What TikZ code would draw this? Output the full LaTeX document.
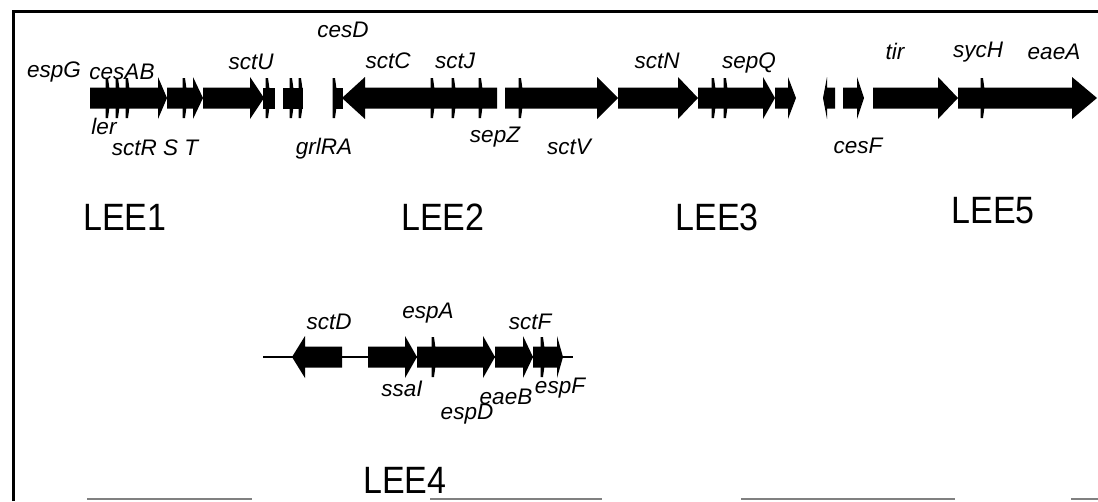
\documentclass[tikz,border=0pt]{standalone}
\usepackage{fontspec}
\setmainfont{Liberation Sans}
\newcommand{\garr}[4]{\fill (#1,{#4-10.5}) -- (#2,{#4-10.5}) -- (#2,{#4-21}) -- (#3,#4) -- (#2,{#4+21}) -- (#2,{#4+10.5}) -- (#1,{#4+10.5}) -- cycle;}
\newcommand{\gbox}[3]{\fill (#1,{#3-10.5}) rectangle (#2,{#3+10.5});}
\newcommand{\gtick}[2]{\fill ({#1-1.5},{#2-20}) -- ({#1+1},{#2-20}) -- ({#1+2.5},{#2-9}) -- ({#1+2.5},{#2+9}) -- ({#1+1},{#2+20}) -- ({#1-1.5},{#2+20}) -- cycle;}
\begin{document}
\begin{tikzpicture}[x=1pt,y=-1pt,
  gene/.style={font=\fontsize{22.5}{24}\selectfont\itshape, inner sep=0pt},
  lee/.style={font=\fontsize{34}{36}\selectfont, inner sep=0pt}]
\useasboundingbox (0,0) rectangle (1098,501);
% frame
\draw[line width=3pt] (13.5,501) -- (13.5,11) -- (1098,11);
\draw[gray, line width=1.3pt] (87,499) -- (252,499) (430,499) -- (602,499) (741,499) -- (955,499) (1071,499) -- (1098,499);
% ---------- row 1 ----------
\def\c{98}
\garr{90}{158}{167}{\c}
\gtick{107}{\c}\gtick{117}{\c}\gtick{127}{\c}
\garr{167}{193}{203}{\c}
\gtick{184}{\c}
\garr{203}{250}{264}{\c}
\gbox{263}{275}{\c}\gtick{267}{\c}
\gbox{283}{303}{\c}\gtick{291}{\c}\gtick{300}{\c}
\gbox{333}{343}{\c}\gtick{334}{\c}
\garr{497}{365}{342}{\c}
\gtick{432}{\c}\gtick{453}{\c}\gtick{480}{\c}
\garr{505}{597}{618}{\c}
\gtick{520}{\c}
\garr{618}{678}{698}{\c}
\garr{698}{763}{775}{\c}
\gtick{713}{\c}\gtick{725}{\c}
\garr{775}{788}{796}{\c}
\garr{835}{827}{823}{\c}
\garr{843}{857}{864}{\c}
\garr{873}{938}{958}{\c}
\garr{958}{1072}{1097}{\c}
\gtick{982}{\c}
% labels row 1
\node[gene] (espG) at (54,72) {espG};
\node[gene] (cesAB) at (122,72) {cesAB};
\node[gene] (sctU) at (251,62) {sctU};
\node[gene] (cesD) at (343,30) {cesD};
\node[gene] (ler) at (104,126) {ler};
\node[gene] (sctRST) at (155,148) {sctR S T};
\node[gene] (grlRA) at (324,149) {grlRA};
\node[gene] (sctC) at (388,61) {sctC};
\node[gene] (sctJ) at (455,61) {sctJ};
\node[gene] (sepZ) at (495,137) {sepZ};
\node[gene] (sctV) at (569,147) {sctV};
\node[gene] (sctN) at (657,61) {sctN};
\node[gene] (sepQ) at (749,63) {sepQ};
\node[gene] (tir) at (895,51) {tir};
\node[gene] (sycH) at (978,52) {sycH};
\node[gene] (eaeA) at (1054,52) {eaeA};
\node[gene] (cesF) at (858,146) {cesF};
% LEE labels
\node[lee] (lee1) at (125,217) {\scalebox{1}[1.12]{LEE1}};
\node[lee] (lee2) at (443,217) {\scalebox{1}[1.12]{LEE2}};
\node[lee] (lee3) at (717,217) {\scalebox{1}[1.12]{LEE3}};
\node[lee] (lee5) at (993,211) {\scalebox{1}[1.12]{LEE5}};
\node[lee] (lee4) at (405,480) {\scalebox{1}[1.12]{LEE4}};
% ---------- row 2 ----------
\def\d{357}
\draw[line width=1.2pt] (263,\d) -- (573,\d);
\garr{342}{305}{292}{\d}
\garr{368}{405}{417}{\d}
\garr{417}{483}{495}{\d}
\gtick{433}{\d}
\garr{495}{523}{533}{\d}
\garr{533}{557}{563}{\d}
\gtick{542}{\d}
\node[gene] (sctD) at (329,322) {sctD};
\node[gene] (espA) at (428,313) {espA};
\node[gene] (sctF) at (530,322) {sctF};
\node[gene] (ssaI) at (402,389) {ssaI};
\node[gene] (eaeB) at (506,397) {eaeB};
\node[gene] (espF) at (560,388) {espF};
\node[gene] (espD) at (467,414) {espD};
\end{tikzpicture}
\end{document}
